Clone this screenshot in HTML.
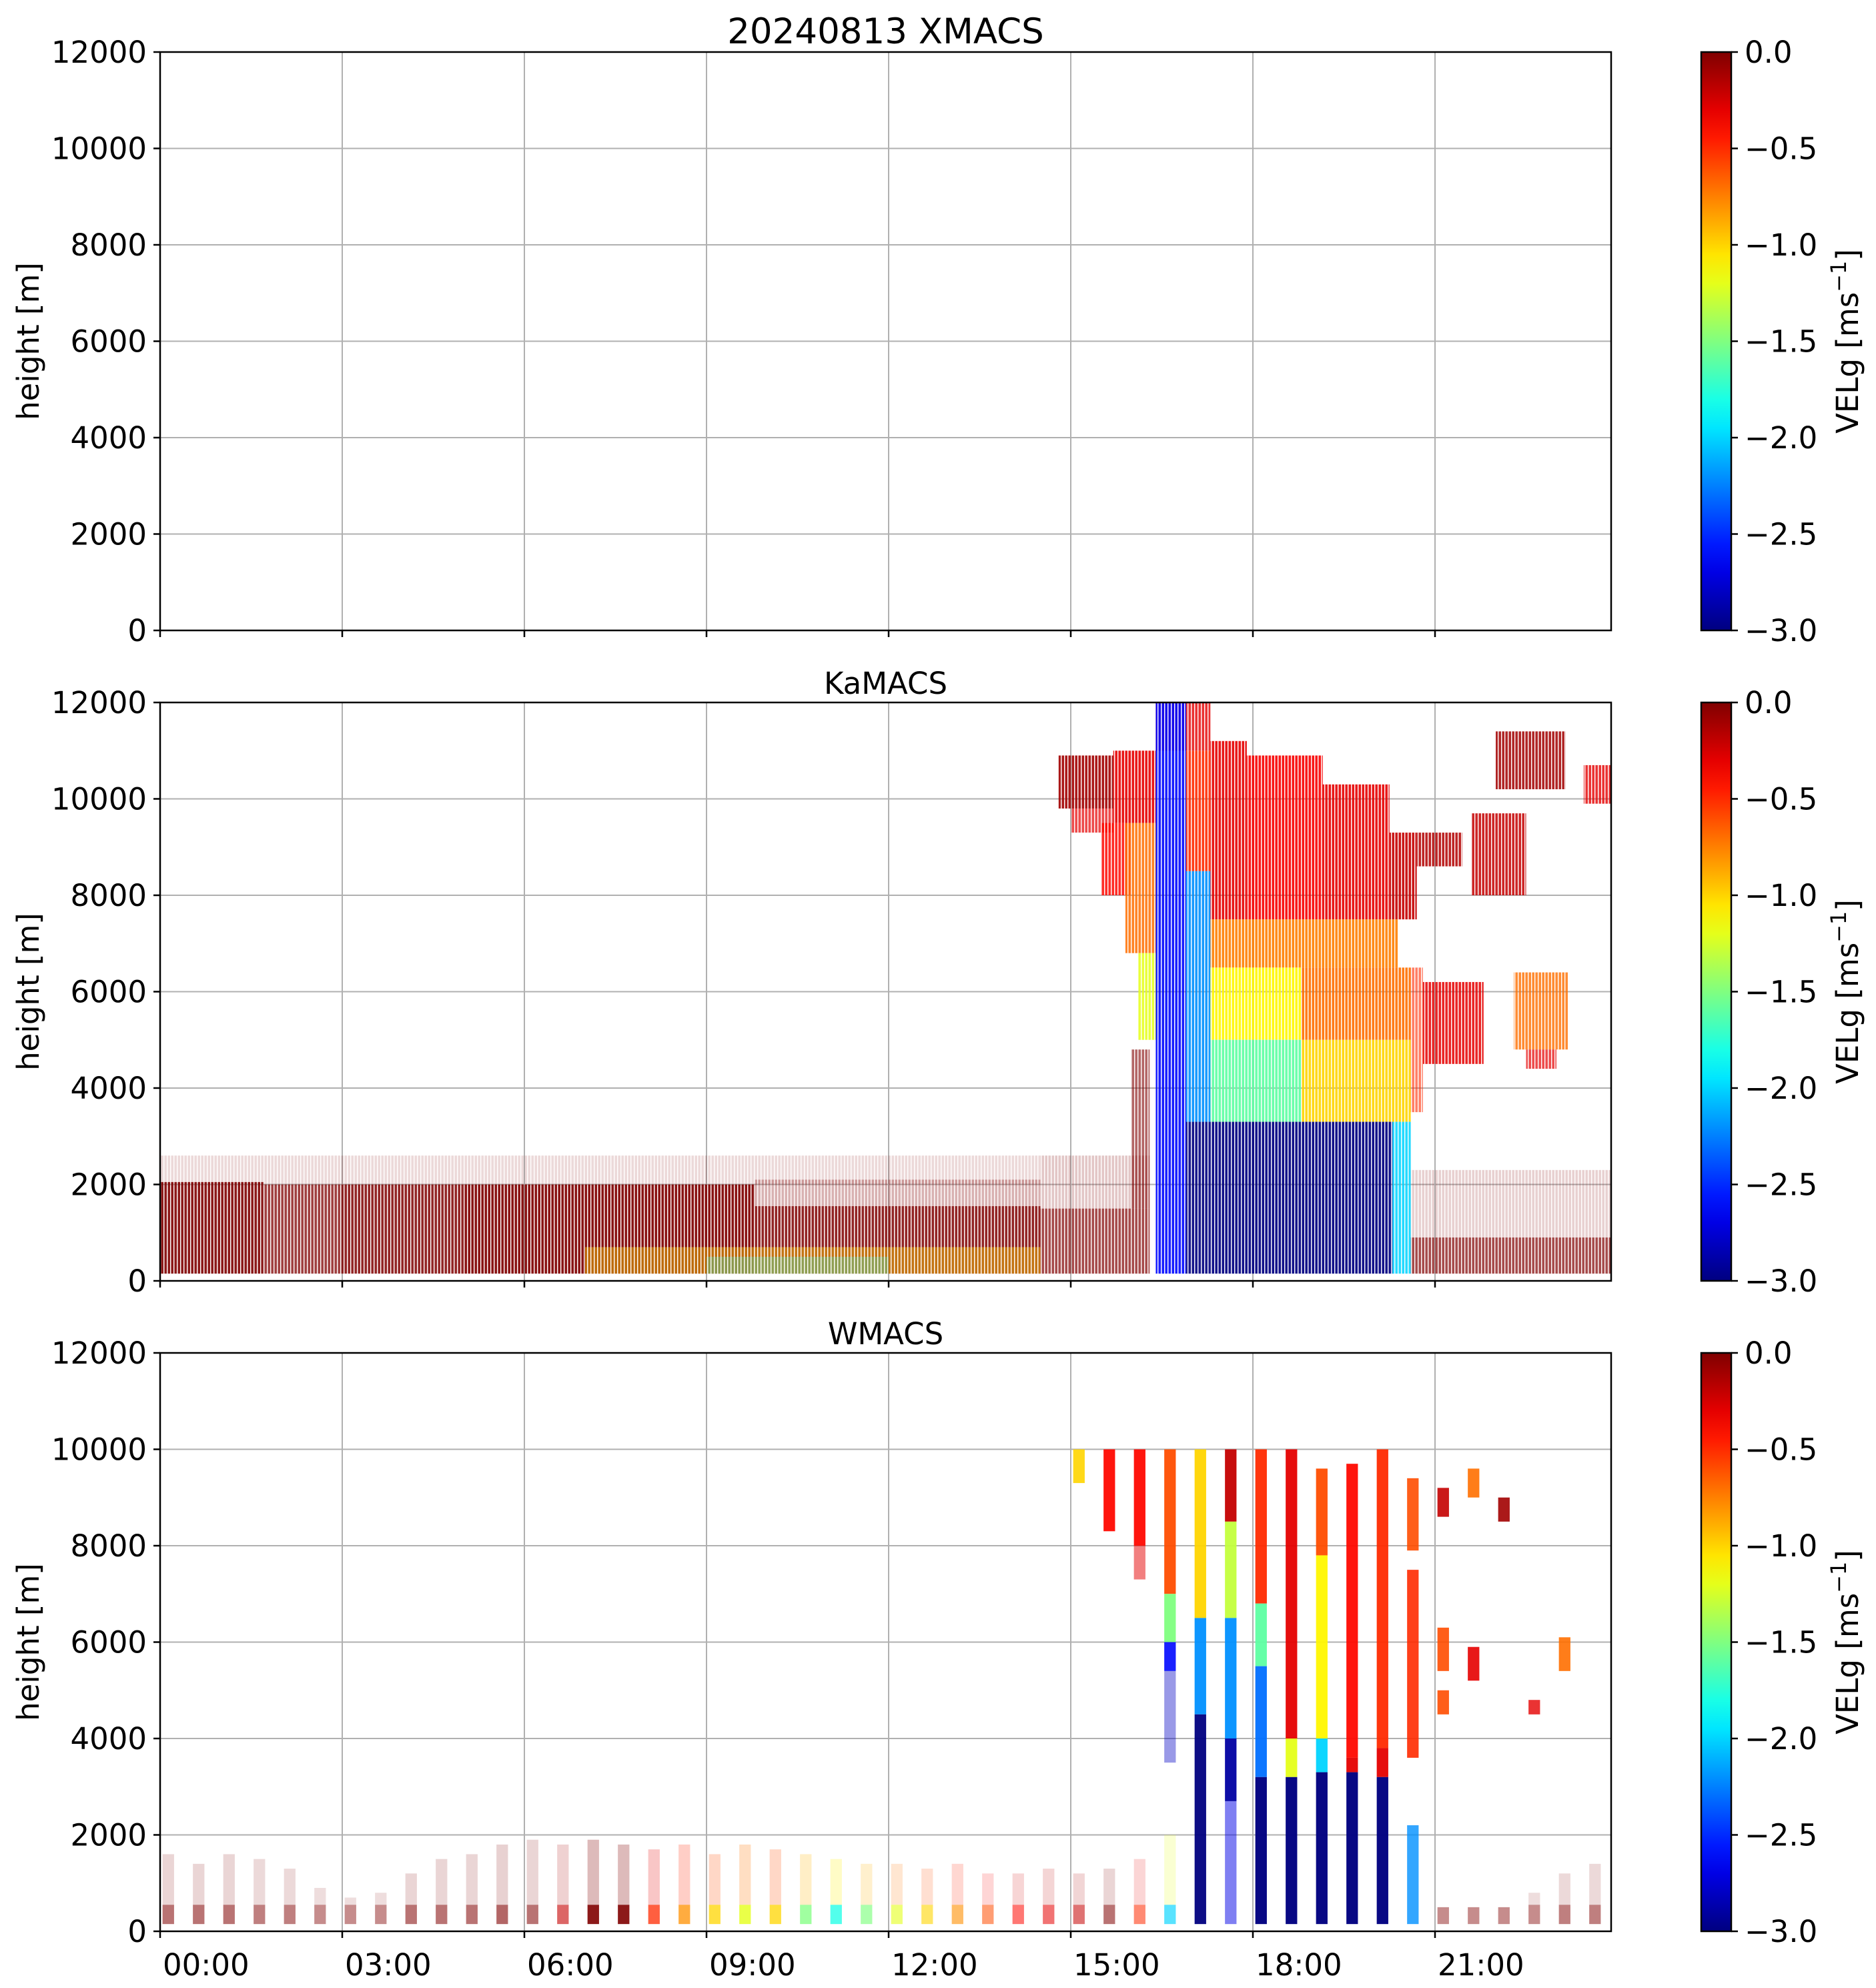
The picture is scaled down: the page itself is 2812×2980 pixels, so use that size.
<!DOCTYPE html>
<html><head><meta charset="utf-8">
<style>
html,body{margin:0;padding:0;background:#fff;}
svg{display:block;font-family:"DejaVu Sans","Liberation Sans",sans-serif;}
</style></head>
<body>
<svg id="fig" xmlns="http://www.w3.org/2000/svg" width="2812" height="2980" viewBox="0 0 2812 2980">
<defs>
<pattern id="stripes" width="5" height="10" patternUnits="userSpaceOnUse">
<rect x="0" y="0" width="1.4" height="10" fill="#000"/>
</pattern>
<mask id="stripeMask" maskUnits="userSpaceOnUse" x="0" y="0" width="2812" height="2980">
<rect x="0" y="0" width="2812" height="2980" fill="#fff"/>
<rect x="0" y="0" width="2812" height="2980" fill="url(#stripes)"/>
</mask>
</defs>
</svg>
<script>
// ---------- data ----------
const panelNames = ["XMACS", "KaMACS", "WMACS"];
const yTicks = [0, 2000, 4000, 6000, 8000, 10000, 12000];
const xTickHours = [0, 3, 6, 9, 12, 15, 18, 21];
const xTickLabels = ["00:00","03:00","06:00","09:00","12:00","15:00","18:00","21:00"];
const cbTicks = [0, -0.5, -1.0, -1.5, -2.0, -2.5, -3.0];
const cbTickLabels = ["0.0","\u22120.5","\u22121.0","\u22121.5","\u22122.0","\u22122.5","\u22123.0"];
// KaMACS patches: [tStart(h), tEnd(h), hBottom(m), hTop(m), velocity, density]
const kaPatches = [
[0,14.5,2000,2600,0,0.15],
[0,1.7,150,2050,0,0.9],
[1.7,3,150,2000,0,0.75],
[3,5,150,2000,0,0.85],
[5,9.8,150,2000,0,0.92],
[9.8,14.5,150,1550,0,0.85],
[9.8,14.5,1550,2100,0,0.3],
[7,14.5,150,700,-1.0,0.45],
[9,12,150,500,-1.8,0.3],
[14.5,16.3,150,1500,0,0.7],
[14.5,16.3,1500,2600,0,0.22],
[20.6,24,150,900,0,0.7],
[20.6,24,900,2300,0,0.18],
[14.8,15.7,9800,10900,-0.1,0.9],
[15.7,16.4,9500,11000,-0.3,0.9],
[15.0,15.7,9300,9800,-0.3,0.7],
[15.5,16.0,8000,9500,-0.4,0.85],
[15.9,16.4,6800,9500,-0.7,0.85],
[16.1,16.4,5000,6800,-1.2,0.85],
[16.0,16.3,1500,4800,0,0.6],
[16.4,17.3,11000,12000,-0.3,0.8],
[16.4,16.9,150,12000,-2.6,0.9],
[16.9,17.3,8500,11000,-0.5,0.9],
[16.9,17.3,3300,8500,-2.2,0.9],
[16.9,17.3,150,3300,-3,0.9],
[17.3,17.9,7500,11200,-0.3,0.9],
[17.9,19.15,7500,10900,-0.35,0.9],
[19.15,20.25,7500,10300,-0.3,0.9],
[20.25,20.7,7500,9300,-0.2,0.9],
[20.7,21.45,8600,9300,-0.15,0.85],
[17.3,20.4,6500,7500,-0.75,0.9],
[17.3,18.8,5000,6500,-1.1,0.9],
[18.8,20.6,5000,6500,-0.7,0.9],
[17.3,18.8,3300,5000,-1.6,0.9],
[18.8,20.6,3300,5000,-1.0,0.9],
[17.3,20.3,150,3300,-3,0.92],
[20.3,20.6,150,3300,-2.0,0.85],
[20.6,20.8,3500,6500,-0.5,0.6],
[20.8,21.8,4500,6200,-0.3,0.85],
[21.6,22.5,8000,9700,-0.2,0.85],
[22.0,23.15,10200,11400,-0.1,0.85],
[23.45,24,9900,10700,-0.3,0.8],
[22.3,23.2,4800,6400,-0.7,0.8],
[22.5,23.0,4400,4800,-0.3,0.7]
];
// WMACS: 48 scan bars, low-level echo tops, dominant velocity and density
const wLowTop = [1600,1400,1600,1500,1300,900,700,800,1200,1500,1600,1800,1900,1800,1900,1800,1700,1800,1600,1800,1700,1600,1500,1400,1400,1300,1400,1200,1200,1300,1200,1300,1500,2000,0,0,0,0,0,0,0,0,500,500,500,800,1200,1400];
const wLowV = [0,0,0,0,0,0,0,0,0,0,0,0,0,-0.2,0,0,-0.5,-0.8,-1.0,-1.2,-1.0,-1.5,-1.8,-1.5,-1.2,-1.0,-0.8,-0.6,-0.4,-0.3,-0.2,0,-0.5,-2.0,0,0,0,0,0,0,0,0,0,0,0,0,0,0];
const wLowD = [0.55,0.55,0.55,0.5,0.5,0.45,0.45,0.45,0.55,0.55,0.55,0.6,0.55,0.6,0.9,0.9,0.75,0.75,0.75,0.8,0.75,0.75,0.75,0.65,0.6,0.6,0.6,0.55,0.55,0.55,0.55,0.55,0.55,0.65,0,0,0,0,0,0,0,0,0.45,0.45,0.45,0.45,0.5,0.5];
// WMACS cloud segments: [barIndex, hBottom, hTop, velocity, density]
const wCloud = [
[30,9300,10000,-1.0,0.9],
[31,8300,10000,-0.4,0.95],
[32,8000,10000,-0.4,0.95],[32,7300,8000,-0.3,0.5],
[33,7000,10000,-0.6,0.95],[33,6000,7000,-1.5,0.95],[33,5400,6000,-2.6,0.9],[33,3500,5400,-2.8,0.4],
[34,6500,10000,-1.0,0.95],[34,4500,6500,-2.2,0.95],[34,150,4500,-3,0.95],
[35,8500,10000,-0.2,0.95],[35,6500,8500,-1.3,0.95],[35,4000,6500,-2.2,0.95],[35,2700,4000,-2.9,0.95],[35,150,2700,-2.7,0.5],
[36,6800,10000,-0.5,0.95],[36,5500,6800,-1.6,0.95],[36,3200,5500,-2.3,0.95],[36,150,3200,-3,0.97],
[37,4000,10000,-0.3,0.95],[37,3200,4000,-1.2,0.95],[37,150,3200,-3,0.97],
[38,7800,9600,-0.6,0.95],[38,4000,7800,-1.1,0.95],[38,3300,4000,-2.0,0.95],[38,150,3300,-3,0.97],
[39,3600,9700,-0.4,0.95],[39,3300,3600,-0.3,0.95],[39,150,3300,-3,0.97],
[40,3800,10000,-0.5,0.95],[40,3200,3800,-0.3,0.95],[40,150,3200,-3,0.97],
[41,7900,9400,-0.6,0.9],[41,3600,7500,-0.5,0.9],[41,150,2200,-2.2,0.8],
[42,8600,9200,-0.2,0.9],[42,5400,6300,-0.6,0.9],[42,4500,5000,-0.6,0.9],
[43,9000,9600,-0.7,0.9],[43,5200,5900,-0.3,0.9],
[44,8500,9000,-0.1,0.9],
[45,4500,4800,-0.3,0.8],
[46,5400,6100,-0.7,0.9]
];

// ---------- layout ----------
const NS = "http://www.w3.org/2000/svg";
const svg = document.getElementById("fig");
const X0 = 240, X1 = 2415, HOURPX = 91;
const panelTops = [78, 1053, 2028];
const PH = 867;
const CBX = 2550, CBW = 45;
const xScale = t => X0 + t * HOURPX;
const yScaleFor = top => h => top + PH - h * PH / 12000;

function jet(v){
  const n = Math.max(0, Math.min(1, (v + 3) / 3));
  const c = f => Math.round(255 * Math.max(0, Math.min(1, f)));
  return `rgb(${c(1.5-Math.abs(4*n-3))},${c(1.5-Math.abs(4*n-2))},${c(1.5-Math.abs(4*n-1))})`;
}
function mk(tag, attrs, parent){
  const el = document.createElementNS(NS, tag);
  for (const k in attrs) el.setAttribute(k, attrs[k]);
  (parent || svg).appendChild(el);
  return el;
}

const defs = svg.querySelector("defs");
const grad = mk("linearGradient", {id:"jetgrad", x1:"0", y1:"1", x2:"0", y2:"0"}, defs);
for (let i = 0; i <= 20; i++){
  mk("stop", {offset: (i/20).toFixed(3), "stop-color": jet(-3 + 3*i/20)}, grad);
}
for (let p = 0; p < 3; p++){
  const cp = mk("clipPath", {id:"clip"+p}, defs);
  mk("rect", {x:X0, y:panelTops[p], width:X1-X0, height:PH}, cp);
}

panelNames.forEach((name, p) => {
  const top = panelTops[p];
  const ys = yScaleFor(top);
  const g = mk("g", {});
  
  

  const grid = mk("g", {stroke:"#b0b0b0", "stroke-width":"2"}, g);
  
  
  yTicks.forEach(v => mk("line", {x1:X0, x2:X1, y1:ys(v), y2:ys(v)}, grid));
  xTickHours.forEach(h => mk("line", {x1:xScale(h), x2:xScale(h), y1:top, y2:top+PH}, grid));

  const data = mk("g", {"clip-path":`url(#clip${p})`}, g);
  
  
  if (name === "KaMACS"){
    const inner = mk("g", {mask:"url(#stripeMask)"}, data);
    kaPatches.forEach(d => {
      const r = mk("rect", {x:xScale(d[0]), y:ys(d[3]), width:xScale(d[1])-xScale(d[0]), height:ys(d[2])-ys(d[3]), fill:jet(d[4]), "fill-opacity":d[5]}, inner);
      
      
    });
  }
  if (name === "WMACS"){
    const bx = k => xScale(0.04 + 0.5*k);
    const bw = 0.19 * HOURPX;
    wLowTop.forEach((tp, k) => {
      if (tp <= 0) return;
      const mid = Math.min(550, tp);
      const r1 = mk("rect", {x:bx(k), y:ys(mid), width:bw, height:ys(150)-ys(mid), fill:jet(wLowV[k]), "fill-opacity":wLowD[k]}, data);
      
      
      if (tp > mid){
        const r2 = mk("rect", {x:bx(k), y:ys(tp), width:bw, height:ys(mid)-ys(tp), fill:jet(wLowV[k]*0.6), "fill-opacity":wLowD[k]*0.3}, data);
        
        
      }
    });
    wCloud.forEach(d => {
      const r = mk("rect", {x:bx(d[0]), y:ys(d[2]), width:bw, height:ys(d[1])-ys(d[2]), fill:jet(d[3]), "fill-opacity":d[4]}, data);
      
      
    });
  }

  const frame = mk("rect", {x:X0, y:top, width:X1-X0, height:PH, fill:"none", stroke:"#000", "stroke-width":"2.5"}, g);
  
  

  yTicks.forEach(v => {
    mk("line", {x1:X0-10, x2:X0, y1:ys(v), y2:ys(v), stroke:"#000", "stroke-width":"2.5"}, g);
    const t = mk("text", {x:X0-20, y:ys(v)+16, "text-anchor":"end", "font-size":"45"}, g);
    t.textContent = String(v);
    
    
  });
  xTickHours.forEach((h, i) => {
    mk("line", {x1:xScale(h), x2:xScale(h), y1:top+PH, y2:top+PH+10, stroke:"#000", "stroke-width":"2.5"}, g);
    if (p === 2){
      const t = mk("text", {x:xScale(h)+4, y:top+PH+66, "font-size":"45"}, g);
      t.textContent = xTickLabels[i];
      
      
    }
  });
  const yl = mk("text", {x:0, y:0, "font-size":"45", "text-anchor":"middle", transform:`translate(58,${top+PH/2}) rotate(-90)`}, g);
  yl.textContent = "height [m]";
  
  

  const tt = mk("text", {x:(X0+X1)/2, y: top-13, "text-anchor":"middle", "font-size": p===0 ? "53" : "45"}, g);
  tt.textContent = p === 0 ? "20240813 XMACS" : name;
  
  

  const cb = mk("g", {}, g);
  
  
  mk("rect", {x:CBX, y:top, width:CBW, height:PH, fill:"url(#jetgrad)", stroke:"#000", "stroke-width":"2.5"}, cb);
  cbTicks.forEach((v, i) => {
    const y = top + (-v/3) * PH;
    mk("line", {x1:CBX+CBW, x2:CBX+CBW+10, y1:y, y2:y, stroke:"#000", "stroke-width":"2.5"}, cb);
    const t = mk("text", {x:CBX+CBW+20, y:y+16, "font-size":"45"}, cb);
    t.textContent = cbTickLabels[i];
    
    
  });
  const cl = mk("text", {x:0, y:0, "font-size":"45", "text-anchor":"middle", transform:`translate(2785,${top+PH/2}) rotate(-90)`}, cb);
  cl.innerHTML = 'VELg [ms<tspan dy="-18" font-size="32">\u22121</tspan><tspan dy="18">]</tspan>';
  
  
});
</script>
</body></html>
